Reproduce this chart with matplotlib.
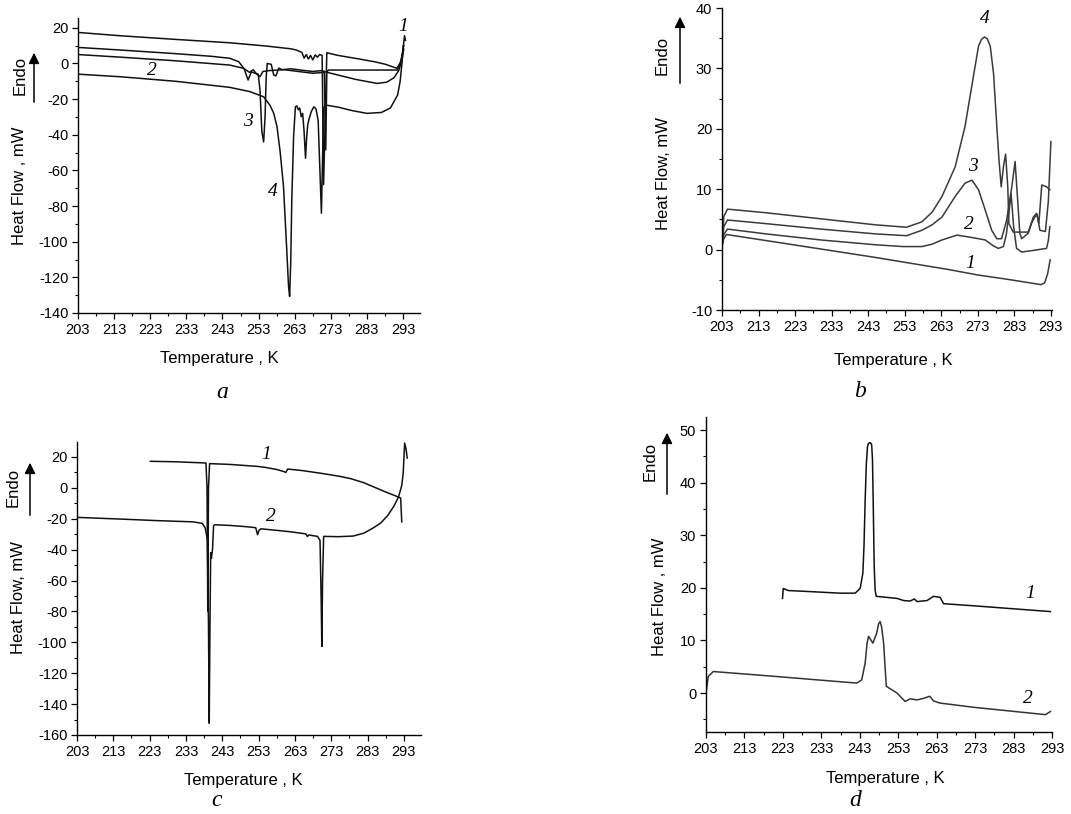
import matplotlib
matplotlib.use("Agg")
import matplotlib.pyplot as plt
from matplotlib.patches import FancyArrowPatch
from matplotlib.ticker import FixedLocator

plt.rcParams['font.family'] = ['Liberation Sans', 'DejaVu Sans']
plt.rcParams['axes.unicode_minus'] = False

# ---- panel a : four DSC curves ----
a1_T = [203, 215, 230, 245, 255, 262, 263.5, 265, 265.6, 266.2, 266.8, 267.4, 268.0, 268.7, 269.3, 269.9, 270.6,
        271.0, 271.9, 275, 280, 285, 288, 291.3, 292.3, 292.9, 293.4, 293.7]
a1_V = [17.4, 15.5, 13.5, 11.6, 9.8, 8.2, 7.5, 6.2, 3.0, 5.0, 2.5, 4.5, 2.0, 4.8, 3.5, 5.0, 4.5,
        -68, 6.0, 4.5, 2.8, 1.0, -0.4, -2.7, 0.5, 6, 15.6, 13]

a2_T = [203, 215, 230, 245, 248.8, 250.5, 251.5, 252.5, 253.4, 254.2, 256, 260, 264, 268, 271.2, 271.6,
        271.9, 272.3, 275, 285, 291.5, 292.5, 293.2]
a2_V = [5.0, 3.5, 1.5, -0.9, -2.7, -5.0, -3.5, -6.0, -7.4, -4.5, -4.0, -3.5, -4.5, -5.5, -5.0, -48.5,
        -5.0, -3.7, -3.7, -3.7, -3.7, 2, 10]

a3_T = [203, 215, 230, 240, 245, 247.5, 249, 250.1, 251, 252, 252.9, 253.4, 253.9, 254.4, 254.8, 255.1,
        255.4, 256.5, 257.2, 257.8, 258.6, 259.5, 262, 265, 268, 270.5, 272, 276, 280, 285.8, 288.5, 290.5,
        291.8, 292.6, 293.2]
a3_V = [9.0, 7.5, 5.5, 4.0, 2.9, 1.0, -3.0, -9.3, -4.7, -5.5, -6.0, -15, -38, -44, -30, -8,
        0.0, -0.5, -6.5, -7.0, -2.6, -3.5, -3.0, -3.8, -4.5, -4.0, -5.0, -7.0, -9.0, -11.2, -10.5, -8.0,
        -4.0, 1.0, 8.0]

a4_T = [203, 215, 230, 245, 250.6, 254.4, 256.2, 257.2, 258.1, 259.0, 259.9, 260.8, 261.3, 261.6, 261.9,
        262.2, 262.7, 263.2, 263.6, 264.0, 264.4, 264.8, 265.2, 265.6, 266.0, 266.3, 266.6, 267.0, 267.6,
        268.3, 268.9, 269.5, 269.9, 270.4, 270.7, 271.0, 271.5, 275, 279, 283, 287, 289.5, 291.5, 292.2,
        292.7, 293.1]
a4_V = [-6.0, -7.5, -10, -13.4, -15.8, -18.7, -23.6, -28, -35.4, -50, -69, -104.5, -125, -130.7, -112,
        -76.5, -41, -24.3, -23.8, -26, -25, -29.9, -28, -38, -53.2, -42, -34.5, -31, -27,
        -24.3, -25.5, -32, -55, -84, -55, -25, -23.3, -24.5, -26.5, -28, -27.5, -25, -17.7, -10,
        0, 10]

# ---- panel b ----
b1_T = [203, 203.5, 204.2, 215, 230, 245, 258, 265, 273, 282, 290.3, 291.3, 292.1, 292.8]
b1_V = [0.5, 1.8, 2.5, 1.5, 0.1, -1.3, -2.6, -3.3, -4.2, -5.0, -5.8, -5.5, -4.0, -1.7]

b2_T = [203, 203.5, 204.5, 215, 230, 245, 252.6, 257.7, 260.5, 263.2, 267.3, 271.4, 275, 277.3, 278.6, 280,
        280.8, 281.4, 282.1, 282.8, 283.6, 285, 288.6, 291.8, 292.3, 292.7]
b2_V = [0.5, 2.5, 3.4, 2.6, 1.6, 0.8, 0.5, 0.5, 0.9, 1.6, 2.4, 2.0, 1.6, 0.6, 0.2, 0.5,
        2.5, 5.5, 9.3, 3.8, 0.2, -0.4, -0.1, 0.2, 1.5, 3.8]

b3_T = [203, 203.5, 204.5, 215, 230, 245, 253.5, 257.7, 260.5, 263.2, 266.8, 269.5, 271.4, 273.2, 275,
        276.8, 278.2, 279.5, 280.9, 282.3, 283.2, 283.9, 284.5, 285, 286.8, 287.8, 288.6, 289.2, 290, 291.5,
        292.3, 293]
b3_V = [0.5, 3.8, 4.9, 4.3, 3.4, 2.6, 2.3, 3.2, 4.1, 5.4, 8.8, 11, 11.5, 9.9, 6.6,
        3.2, 1.8, 1.8, 4.9, 10.4, 14.6, 8.2, 2.7, 1.8, 2.7, 4.5, 5.4, 5.8, 3.2, 3.0,
        8, 17.9]

b4_T = [203, 203.5, 204.5, 215, 230, 245, 253.5, 257.7, 260.5, 263.2, 266.8, 269.5, 271.8, 273.2, 274.0,
        274.8, 275.6, 276.4, 277.3, 278.2, 278.8, 279.4, 280, 280.6, 281.2, 281.5, 282.7, 286.8, 288.2,
        289.1, 289.7, 290.5, 291.8, 292.7]
b4_V = [0.5, 5.5, 6.7, 6.1, 5.1, 4.1, 3.7, 4.6, 6.2, 8.8, 13.7, 20.4, 28.7, 33.7, 34.8,
        35.2, 34.9, 33.7, 29.2, 20.4, 14.8, 10.4, 13.7, 15.8, 10.4, 4.3, 2.9, 2.9, 5.4,
        6.0, 4.3, 10.7, 10.4, 9.9]

# ---- panel c ----
c1_T = [223.2, 230, 238.5, 238.8, 239.0, 239.2, 239.5, 245, 252.7, 255, 258.2, 260, 260.5, 261, 265, 270,
        275, 278.3, 282, 284.8, 288, 290.5, 292.1, 292.4]
c1_V = [17.2, 16.9, 16.1, 0, -80, 0, 15.7, 15.2, 13.9, 13.2, 11.8, 10.5, 10.0, 12.2, 11.2, 9.5,
        7.6, 6.0, 3.3, 0.5, -2.7, -5.0, -6.6, -22]

c2_T = [203, 215, 225, 235, 237.5, 238.3, 238.9, 239.2, 239.4, 239.6, 239.8, 240.0, 240.3, 240.6, 240.9,
        245, 250, 252.2, 252.7, 253.1, 253.6, 258, 262, 266, 266.4, 266.8, 269.2, 269.9, 270.2, 270.4,
        270.6, 270.9, 275, 279, 282, 284.5, 286.6, 288.5, 290.2, 291.5, 292.4, 292.8, 293.2, 293.6, 293.9]
c2_V = [-19.1, -20.2, -21.2, -22.0, -23, -26, -33.6, -90, -152.4, -90, -42, -45.5, -40, -24.5, -23.9,
        -24.3, -25.2, -25.8, -30.3, -27.5, -26.5, -27.5, -28.5, -29.8, -31.5, -30.5, -31.4, -34, -70, -102.7,
        -60, -31.4, -31.6, -31.2, -29.3, -26, -22.8, -18, -12, -6, 1.5, 9.6, 29, 25, 19.3]

# ---- panel d ----
d1_T = [222.9, 223.1, 224.4, 230, 237.9, 241.8, 243.1, 243.8, 244.1, 244.4, 244.7, 245.0, 245.2, 245.5, 245.8,
        246.1, 246.3, 246.5, 246.75, 247.0, 247.3, 252.7, 254.4, 256.1, 257.2, 257.9, 260.5, 262.2, 263.9,
        264.8, 272.6, 292.6]
d1_V = [18.0, 19.9, 19.5, 19.3, 19.0, 19.0, 19.9, 22.8, 28.0, 36.7, 43.5, 46.8, 47.4, 47.6, 47.6,
        47.2, 44.5, 36.0, 24.1, 19.5, 18.4, 18.0, 17.6, 17.5, 17.9, 17.4, 17.6, 18.4, 18.2,
        17.0, 16.6, 15.5]

d2_T = [203, 203.6, 204.9, 220.5, 242.2, 243.5, 244.4, 244.9, 245.3, 245.8, 246.4, 247.4, 247.9, 248.3, 248.7,
        249.2, 249.9, 251.4, 252.7, 254.8, 256.1, 257.9, 259.6, 261.2, 262.2, 263.9, 272.6, 291.3, 292.6]
d2_V = [0, 3.2, 4.1, 3.2, 1.9, 2.5, 5.7, 9.5, 10.8, 10.2, 9.5, 11.4, 13.2, 13.6, 12.5,
        9.5, 1.3, 0.6, 0, -1.6, -1.1, -1.3, -1.0, -0.6, -1.5, -1.9, -2.7, -4.1, -3.5]

x_ticks = [203, 213, 223, 233, 243, 253, 263, 273, 283, 293]

W, H = 1071, 814
fig = plt.figure(figsize=(W / 100, H / 100), dpi=100)


def px_axes(left, top, right, bottom):
    return fig.add_axes([left / W, 1 - bottom / H, (right - left) / W, (bottom - top) / H])


def ftext(x, y, s, **kw):
    fig.text(x / W, 1 - y / H, s, **kw)


def style(ax, xmax, ylim, ymajor, yminor):
    ax.set_xlim(203, xmax)
    ax.set_ylim(*ylim)
    for side in ['top', 'right']:
        ax.spines[side].set_visible(False)
    for side in ['left', 'bottom']:
        ax.spines[side].set_linewidth(1.0)
    ax.xaxis.set_major_locator(FixedLocator(x_ticks))
    ax.xaxis.set_minor_locator(FixedLocator([t + 5 for t in x_ticks]))
    ax.yaxis.set_major_locator(FixedLocator(ymajor))
    ax.yaxis.set_minor_locator(FixedLocator(yminor))
    ax.tick_params(which='major', direction='out', length=4, width=0.9, labelsize=10.5, pad=3)
    ax.tick_params(which='minor', direction='out', length=2.5, width=0.8)


def endo_label(x_text, y_heat, y_endo, x_endo, x_arrow, y_arrow0, y_arrow1, heat='Heat Flow , mW'):
    ftext(x_text, y_heat, heat, rotation=90, ha='center', va='center', fontsize=12)
    ftext(x_endo, y_endo, 'Endo', rotation=90, ha='center', va='center', fontsize=12)
    fig.add_artist(FancyArrowPatch(
        (x_arrow / W, 1 - y_arrow0 / H), (x_arrow / W, 1 - y_arrow1 / H), transform=fig.transFigure,
        arrowstyle='-|>', mutation_scale=16, color='black', lw=1.1))


num_font = dict(family='Liberation Serif', style='italic', fontsize=14, ha='center', va='center')
sub_font = dict(family='Liberation Serif', style='italic', fontsize=17, ha='center', va='center')

# panel a
ax = px_axes(78, 18, 420, 313)
for T, V in [(a1_T, a1_V), (a2_T, a2_V), (a3_T, a3_V), (a4_T, a4_V)]:
    ax.plot(T, V, color='#111111', lw=1.1)
style(ax, 297.7, (-140, 25.5), list(range(-140, 21, 20)), list(range(-130, 21, 20)))
ax.text(293, 20.6, '1', **num_font)
ax.text(223.4, -3.7, '2', **num_font)
ax.text(250.1, -32.7, '3', **num_font)
ax.text(257, -71.9, '4', **num_font)
endo_label(20, 186, 75, 20, 34, 105, 50)
ftext(219, 358, 'Temperature , K', ha='center', va='center', fontsize=12)
ftext(222, 392, 'a', **sub_font)

# panel b
ax = px_axes(722, 8, 1052, 310)
for T, V in [(b1_T, b1_V), (b2_T, b2_V), (b3_T, b3_V), (b4_T, b4_V)]:
    ax.plot(T, V, color='#3a3a3a', lw=1.1)
style(ax, 293.3, (-10, 40), list(range(-10, 41, 10)), list(range(-5, 41, 10)))
ax.text(275, 38.3, '4', **num_font)
ax.text(271.7, 13.8, '3', **num_font)
ax.text(270.6, 4.1, '2', **num_font)
ax.text(270.8, -2.3, '1', **num_font)
endo_label(663, 174, 55, 662, 680, 86, 14, heat='Heat Flow, mW')
ftext(893, 360, 'Temperature , K', ha='center', va='center', fontsize=12)
ftext(860, 391, 'b', **sub_font)

# panel c
ax = px_axes(77, 442, 421, 735)
for T, V in [(c1_T, c1_V), (c2_T, c2_V)]:
    ax.plot(T, V, color='#111111', lw=1.1)
style(ax, 297.7, (-160, 29.7), list(range(-160, 21, 20)), list(range(-150, 30, 20)))
ax.text(255, 21.5, '1', **num_font)
ax.text(256.3, -18.5, '2', **num_font)
endo_label(19, 597, 487, 13, 30, 518, 460, heat='Heat Flow, mW')
ftext(243, 780, 'Temperature , K', ha='center', va='center', fontsize=12)
ftext(217, 800, 'c', **sub_font)

# panel d
ax = px_axes(706, 417, 1052, 732)
for T, V, c in [(d1_T, d1_V, '#111111'), (d2_T, d2_V, '#333333')]:
    ax.plot(T, V, color=c, lw=1.1)
style(ax, 293, (-7.4, 52.5), list(range(0, 51, 10)), list(range(-5, 51, 10)))
ax.text(287.2, 19.0, '1', **num_font)
ax.text(286.7, -1.1, '2', **num_font)
endo_label(659, 597, 461, 650, 667, 497, 430)
ftext(885, 778, 'Temperature , K', ha='center', va='center', fontsize=12)
ftext(855, 800, 'd', **sub_font)

fig.savefig('out.png', dpi=100, facecolor='white')
